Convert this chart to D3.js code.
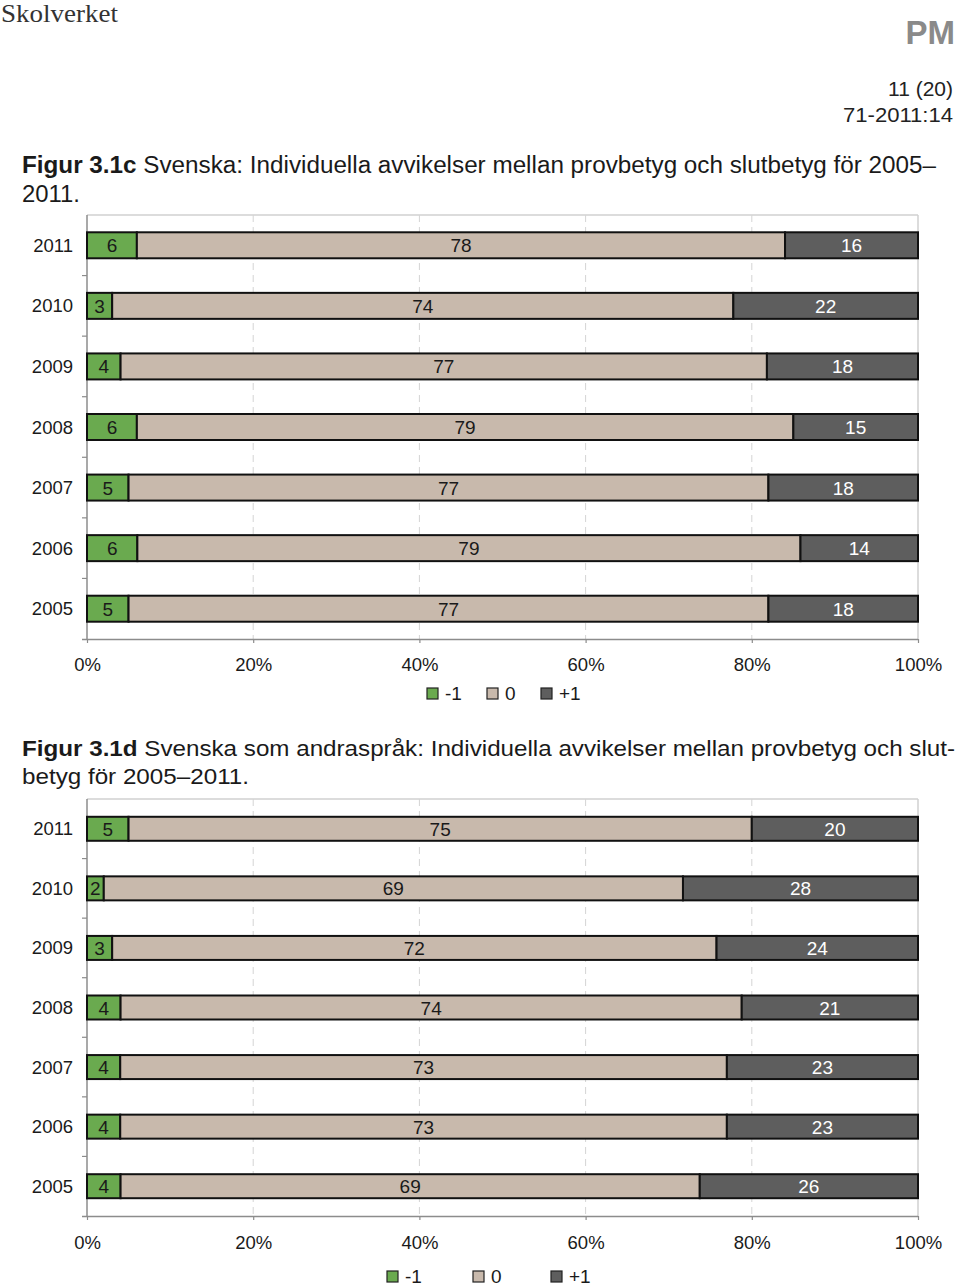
<!DOCTYPE html>
<html><head><meta charset="utf-8">
<script src="https://cdn.jsdelivr.net/npm/d3@7"></script>
<style>
html,body{margin:0;padding:0;background:#fff;}
svg{display:block;font-family:"Liberation Sans",Arial,Helvetica,sans-serif;}
</style></head>
<body>
<svg id="chart" width="960" height="1287"></svg>
<script>
// ---------- DATA ----------
const years = ["2011","2010","2009","2008","2007","2006","2005"];
const seriesNames = ["-1","0","+1"];
const tickValues = [0, 0.2, 0.4, 0.6, 0.8, 1.0];

// Figur 3.1c Svenska
const c_minus = [6, 3, 4, 6, 5, 6, 5];
const c_zero  = [78, 74, 77, 79, 77, 79, 77];
const c_plus  = [16, 22, 18, 15, 18, 14, 18];

// Figur 3.1d Svenska som andraspråk
const d_minus = [5, 2, 3, 4, 4, 4, 4];
const d_zero  = [75, 69, 72, 74, 73, 73, 69];
const d_plus  = [20, 28, 24, 21, 23, 23, 26];

const colors = ["#6aaa4f", "#c8b9ac", "#5e5e5e"];
const labelColors = ["#1a1a1a", "#1a1a1a", "#ffffff"];

const svg = d3.select("#chart");

// ---------- HEADER ----------
svg.append("text").attr("x", 1).attr("y", 22)
  .attr("font-family", "'Liberation Serif','DejaVu Serif',serif")
  .attr("font-size", 26).attr("fill", "#333")
  .attr("textLength", 117).attr("lengthAdjust", "spacingAndGlyphs").text("Skolverket");
svg.append("text").attr("x", 955).attr("y", 44).attr("text-anchor", "end")
  .attr("font-size", 33).attr("font-weight", "bold").attr("fill", "#8a8a8a").text("PM");
svg.append("text").attr("x", 953).attr("y", 96).attr("text-anchor", "end")
  .attr("font-size", 21).attr("fill", "#222").text("11 (20)");
svg.append("text").attr("x", 953).attr("y", 122).attr("text-anchor", "end")
  .attr("font-size", 21).attr("fill", "#222")
  .attr("textLength", 110).attr("lengthAdjust", "spacingAndGlyphs").text("71-2011:14");

function title(lines, baselines, widths, size) {
  lines.forEach((ln, i) => {
    const t = svg.append("text").attr("x", 22).attr("y", baselines[i])
      .attr("font-size", size).attr("fill", "#1a1a1a")
      .attr("textLength", widths[i]).attr("lengthAdjust", "spacingAndGlyphs");
    if (ln.bold) t.append("tspan").attr("font-weight", "bold").text(ln.bold);
    t.append("tspan").text(ln.text);
  });
}
title([{bold: "Figur 3.1c", text: " Svenska: Individuella avvikelser mellan provbetyg och slutbetyg för 2005–"},
       {text: "2011."}], [173, 202], [914, 58], 23);
title([{bold: "Figur 3.1d", text: " Svenska som andraspråk: Individuella avvikelser mellan provbetyg och slut-"},
       {text: "betyg för 2005–2011."}], [756, 784], [933, 227], 22);

// ---------- CHART ----------
function drawChart(cfg) {
  const {minus, zero, plus, top, bottom, left, right, barH, tickY, legendY, legendX} = cfg;
  const g = svg.append("g");
  const rows = years.map((y, i) => {
    const vals = [minus[i], zero[i], plus[i]];
    const total = d3.sum(vals);
    let acc = 0;
    const segs = vals.map((v, k) => {
      const s = {k, v, x0: acc / total, x1: (acc + v) / total};
      acc += v; return s;
    });
    return {year: y, segs};
  });

  const x = d3.scaleLinear().domain([0, 1]).range([left, right]);
  const H = bottom - top;
  const step = H / years.length;
  const pi = 1 - barH / step;
  const y = d3.scaleBand().domain(years).range([top, bottom])
    .paddingInner(pi).paddingOuter(pi / 2);

  g.append("line").attr("x1", left).attr("x2", right).attr("y1", top).attr("y2", top)
    .attr("stroke", "#d0d0d0").attr("stroke-width", 1.5);
  g.append("line").attr("x1", right).attr("x2", right).attr("y1", top).attr("y2", bottom)
    .attr("stroke", "#d0d0d0").attr("stroke-width", 1.5);
  g.selectAll(".grid").data(tickValues.filter(v => v > 0 && v < 1)).enter().append("line")
    .attr("x1", d => x(d)).attr("x2", d => x(d)).attr("y1", top).attr("y2", bottom)
    .attr("stroke", "#d4d4d4").attr("stroke-width", 1).attr("stroke-dasharray", "7,5");

  const xAxis = d3.axisBottom(x).tickValues(tickValues).tickFormat(d3.format(".0%"))
    .tickSize(4).tickPadding(0);
  const ax = g.append("g").attr("transform", `translate(0,${bottom})`).call(xAxis);
  ax.select(".domain").attr("stroke", "#8c8c8c").attr("stroke-width", 1.5)
    .attr("d", `M${left - 5},0.5H${right}`);
  ax.selectAll(".tick line").attr("stroke", "#8c8c8c").attr("stroke-width", 1.2);
  ax.selectAll(".tick text").attr("font-size", 18.5).attr("fill", "#1a1a1a")
    .attr("font-family", "'Liberation Sans',Arial,sans-serif")
    .attr("dy", null).attr("y", tickY - bottom);

  g.append("line").attr("x1", left).attr("x2", left).attr("y1", top).attr("y2", bottom)
    .attr("stroke", "#8c8c8c").attr("stroke-width", 1.5);
  const bounds = d3.range(1, years.length).map(i => top + i * step);
  g.selectAll(".ytick").data(bounds).enter().append("line")
    .attr("x1", left - 5).attr("x2", left).attr("y1", d => d).attr("y2", d => d)
    .attr("stroke", "#8c8c8c").attr("stroke-width", 1.2);

  g.selectAll(".ylab").data(years).enter().append("text")
    .attr("x", left - 14).attr("y", d => y(d) + y.bandwidth() / 2 + 6.5)
    .attr("text-anchor", "end").attr("font-size", 18.5).attr("fill", "#1a1a1a").text(d => d);

  const rowG = g.selectAll(".row").data(rows).enter().append("g")
    .attr("transform", d => `translate(0,${y(d.year)})`);
  rowG.selectAll("rect").data(d => d.segs).enter().append("rect")
    .attr("x", d => x(d.x0)).attr("width", d => x(d.x1) - x(d.x0))
    .attr("y", 0).attr("height", y.bandwidth())
    .attr("fill", d => colors[d.k]).attr("stroke", "#111").attr("stroke-width", 2);
  rowG.selectAll(".lab").data(d => d.segs).enter().append("text")
    .attr("x", d => (x(d.x0) + x(d.x1)) / 2).attr("y", y.bandwidth() / 2 + 7)
    .attr("text-anchor", "middle").attr("font-size", 19)
    .attr("fill", d => labelColors[d.k]).text(d => d.v);

  const lg = g.append("g");
  seriesNames.forEach((n, k) => {
    lg.append("rect").attr("x", legendX[k]).attr("y", legendY - 12).attr("width", 11).attr("height", 11)
      .attr("fill", colors[k]).attr("stroke", "#222").attr("stroke-width", 1.2);
    lg.append("text").attr("x", legendX[k] + 18).attr("y", legendY).attr("font-size", 19)
      .attr("fill", "#1a1a1a").text(n);
  });
}

drawChart({minus: c_minus, zero: c_zero, plus: c_plus,
  top: 215, bottom: 639, left: 87, right: 918, barH: 26,
  tickY: 671, legendY: 700, legendX: [427, 487, 541]});
drawChart({minus: d_minus, zero: d_zero, plus: d_plus,
  top: 799, bottom: 1216, left: 87, right: 918, barH: 24,
  tickY: 1249, legendY: 1283, legendX: [387, 473, 551]});
</script>
</body></html>
